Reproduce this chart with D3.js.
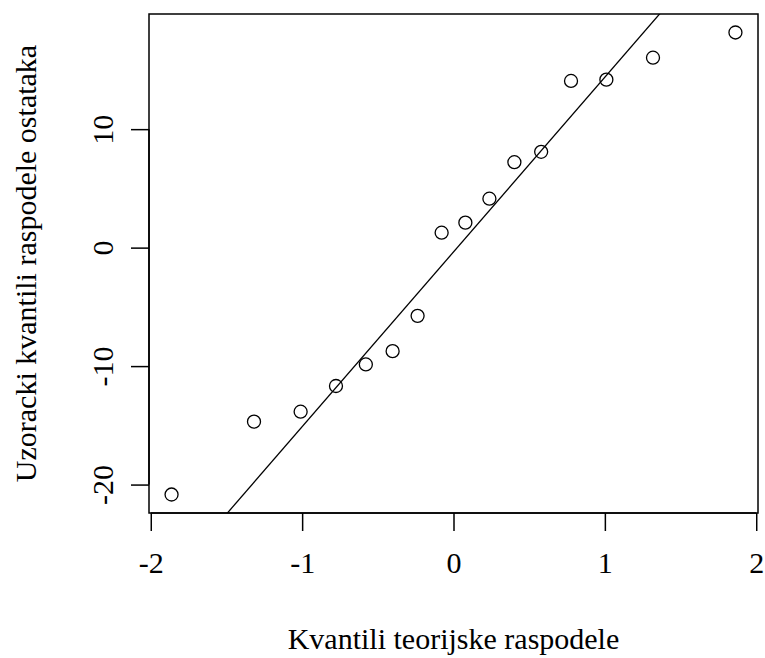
<!DOCTYPE html>
<html>
<head>
<meta charset="utf-8">
<script src="https://cdn.jsdelivr.net/npm/d3@7"></script>
<style>
  html, body { margin: 0; padding: 0; background: #fff; }
  svg { display: block; }
  text { font-family: "Liberation Serif", "Times New Roman", serif; fill: #000; }
</style>
</head>
<body>
<svg id="chart" width="765" height="658"></svg>
<script>
// Sorted sample residuals (normal Q-Q plot)
const sampleQuantiles = [-20.84, -14.69, -13.85, -11.68, -9.86, -8.74, -5.76, 1.26,
                         2.11, 4.13, 7.21, 8.09, 14.07, 14.18, 16.03, 18.16];
const xTicks = [-2, -1, 0, 1, 2];
const yTicks = [-20, -10, 0, 10];
const xTitle = "Kvantili teorijske raspodele";
const yTitle = "Uzoracki kvantili raspodele ostataka";

function normInv(p) {
  // Acklam's rational approximation of the inverse normal CDF
  const a = [-3.969683028665376e+01, 2.209460984245205e+02, -2.759285104469687e+02,
             1.383577518672690e+02, -3.066479806614716e+01, 2.506628277459239e+00];
  const b = [-5.447609879822406e+01, 1.615858368580409e+02, -1.556989798598866e+02,
             6.680131188771972e+01, -1.328068155288572e+01];
  const c = [-7.784894002430293e-03, -3.223964580411365e-01, -2.400758277161838e+00,
             -2.549671669942046e+00, 4.374664141464968e+00, 2.938163982698783e+00];
  const d = [7.784695709041462e-03, 3.224671290700398e-01, 2.445134137142996e+00,
             3.754408661907416e+00];
  const pl = 0.02425;
  let q, r;
  if (p < pl) {
    q = Math.sqrt(-2 * Math.log(p));
    return (((((c[0]*q+c[1])*q+c[2])*q+c[3])*q+c[4])*q+c[5]) /
           ((((d[0]*q+d[1])*q+d[2])*q+d[3])*q+1);
  } else if (p <= 1 - pl) {
    q = p - 0.5; r = q * q;
    return (((((a[0]*r+a[1])*r+a[2])*r+a[3])*r+a[4])*r+a[5])*q /
           (((((b[0]*r+b[1])*r+b[2])*r+b[3])*r+b[4])*r+1);
  } else {
    q = Math.sqrt(-2 * Math.log(1 - p));
    return -(((((c[0]*q+c[1])*q+c[2])*q+c[3])*q+c[4])*q+c[5]) /
            ((((d[0]*q+d[1])*q+d[2])*q+d[3])*q+1);
  }
}

// theoretical normal quantiles at ppoints(n)
const n = sampleQuantiles.length;
const theoretical = d3.range(1, n + 1).map(i => normInv((i - 0.5) / n));
const points = theoretical.map((t, i) => ({ x: t, y: sampleQuantiles[i] }));

// reference line through the first and third quartiles
const q1 = d3.quantile(sampleQuantiles, 0.25);
const q3 = d3.quantile(sampleQuantiles, 0.75);
const z1 = normInv(0.25), z3 = normInv(0.75);
const slope = (q3 - q1) / (z3 - z1);
const intercept = q1 - slope * z1;

// plot region
const plotLeft = 149, plotRight = 758, plotTop = 14, plotBottom = 513;
const fontSize = "30px";

function padded(ext) {
  const pad = (ext[1] - ext[0]) * 0.04;
  return [ext[0] - pad, ext[1] + pad];
}
const x = d3.scaleLinear().domain(padded(d3.extent(theoretical))).range([plotLeft, plotRight]);
const y = d3.scaleLinear().domain(padded(d3.extent(sampleQuantiles))).range([plotBottom, plotTop]);

const svg = d3.select("#chart");

svg.append("clipPath").attr("id", "plotClip")
  .append("rect").attr("x", plotLeft).attr("y", plotTop)
  .attr("width", plotRight - plotLeft).attr("height", plotBottom - plotTop);

// reference line
const [d0, d1] = x.domain();
svg.append("line")
  .attr("clip-path", "url(#plotClip)")
  .attr("x1", x(d0)).attr("y1", y(intercept + slope * d0))
  .attr("x2", x(d1)).attr("y2", y(intercept + slope * d1))
  .attr("stroke", "#000").attr("stroke-width", 1.3);

// points
svg.append("g").selectAll("circle")
  .data(points).join("circle")
  .attr("cx", d => x(d.x)).attr("cy", d => y(d.y))
  .attr("r", 6.5)
  .attr("fill", "none").attr("stroke", "#000").attr("stroke-width", 1.3);

// box
svg.append("rect")
  .attr("x", plotLeft).attr("y", plotTop)
  .attr("width", plotRight - plotLeft).attr("height", plotBottom - plotTop)
  .attr("fill", "none").attr("stroke", "#000").attr("stroke-width", 1.5);

const minusFmt = v => v < 0 ? "-" + Math.abs(v) : String(v);

// x axis
const xAxis = svg.append("g").attr("transform", `translate(0,${plotBottom})`)
  .call(d3.axisBottom(x).tickValues(xTicks).tickSize(18).tickSizeOuter(0).tickPadding(0)
        .tickFormat(minusFmt));
xAxis.select(".domain").attr("d", `M${x(xTicks[0])},0H${x(xTicks[xTicks.length - 1])}`)
  .attr("stroke-width", 1.5);
xAxis.selectAll(".tick line").attr("stroke-width", 1.5);
xAxis.selectAll(".tick text")
  .attr("y", 60).attr("dy", null)
  .style("font-family", "'Liberation Serif', serif").style("font-size", fontSize);

// y axis
const yAxis = svg.append("g").attr("transform", `translate(${plotLeft},0)`)
  .call(d3.axisLeft(y).tickValues(yTicks).tickSize(18).tickSizeOuter(0)
        .tickFormat(minusFmt));
yAxis.select(".domain").attr("d", `M0,${y(yTicks[0])}V${y(yTicks[yTicks.length - 1])}`)
  .attr("stroke-width", 1.5);
yAxis.selectAll(".tick line").attr("stroke-width", 1.5);
yAxis.selectAll(".tick text")
  .attr("x", null).attr("dy", null)
  .attr("text-anchor", "middle")
  .attr("transform", "translate(-36,0) rotate(-90)")
  .style("font-family", "'Liberation Serif', serif").style("font-size", fontSize);

// titles
svg.append("text")
  .attr("x", (plotLeft + plotRight) / 2).attr("y", 649)
  .attr("text-anchor", "middle")
  .style("font-size", fontSize)
  .text(xTitle);

svg.append("text")
  .attr("transform", `translate(36,${(plotTop + plotBottom) / 2}) rotate(-90)`)
  .attr("text-anchor", "middle")
  .style("font-size", fontSize)
  .text(yTitle);
</script>
</body>
</html>
